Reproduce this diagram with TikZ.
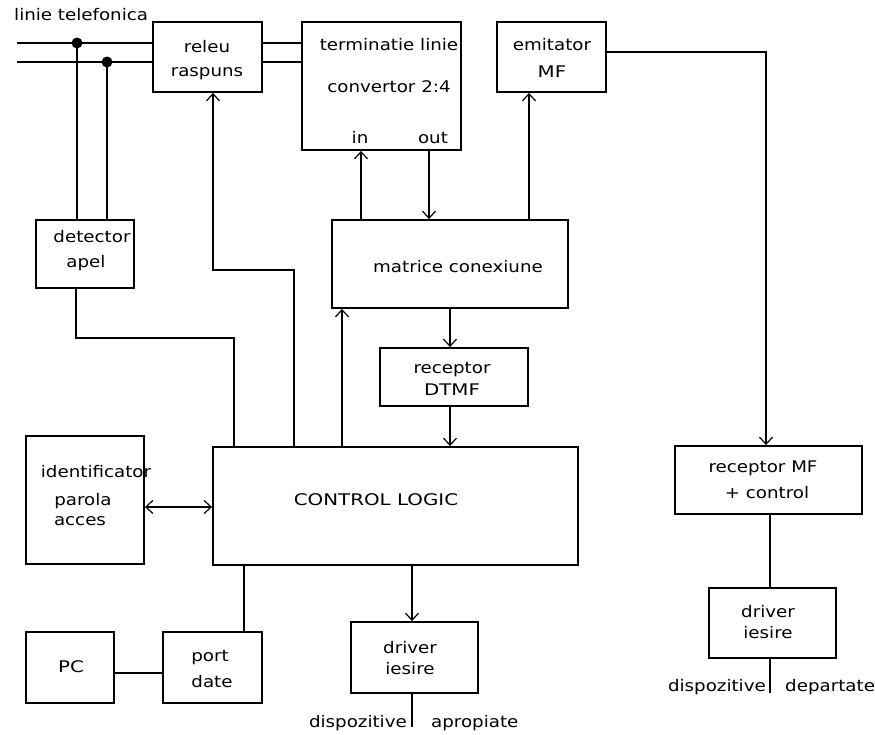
\documentclass[tikz,border=0pt]{standalone}
\usepackage{fontspec}
\usetikzlibrary{arrows.meta}
\newfontfamily\dfont[FakeStretch=1.14]{DejaVu Sans}
\newfontfamily\dfontw[FakeStretch=1.24]{DejaVu Sans}
\begin{document}
\begin{tikzpicture}[x=1pt,y=-1pt,
  box/.style={draw,line width=1.9pt,rectangle,inner sep=0pt},
  wire/.style={line width=1.9pt},
  arr/.style={wire,-{Straight Barb[length=7pt,width=13pt,line width=1.2pt]}},
  dbl/.style={wire,{Straight Barb[length=7pt,width=13pt,line width=1.2pt]}-{Straight Barb[length=7pt,width=13pt,line width=1.2pt]}},
  txt/.style={font=\dfont\fontsize{16}{18}\selectfont,inner sep=0pt,anchor=base},
  txtw/.style={font=\dfontw\fontsize{16}{18}\selectfont,inner sep=0pt,anchor=base},
  dot/.style={circle,fill,inner sep=0pt,minimum size=11pt}]
\useasboundingbox (0,0) rectangle (875,734);
% boxes
\node[box,minimum width=109pt,minimum height=70pt] (releu) at (207.5,57) {};
\node[box,minimum width=159pt,minimum height=128pt] (term) at (381.5,86) {};
\node[box,minimum width=109pt,minimum height=70pt] (emit) at (551.5,57) {};
\node[box,minimum width=98pt,minimum height=68pt] (detector) at (85,254) {};
\node[box,minimum width=236pt,minimum height=88pt] (matrice) at (450,264) {};
\node[box,minimum width=148pt,minimum height=58pt] (dtmf) at (454,377) {};
\node[box,minimum width=365pt,minimum height=118pt] (control) at (395.5,506) {};
\node[box,minimum width=118pt,minimum height=128pt] (ident) at (85,500) {};
\node[box,minimum width=88pt,minimum height=71pt] (pc) at (70,667.5) {};
\node[box,minimum width=99pt,minimum height=71pt] (port) at (212.5,667.5) {};
\node[box,minimum width=127pt,minimum height=71pt] (drv1) at (414.5,657.5) {};
\node[box,minimum width=187pt,minimum height=68pt] (rmf) at (768.5,480) {};
\node[box,minimum width=127pt,minimum height=70pt] (drv2) at (772.5,623) {};
% texts
\node[txt,anchor=base west] (tlinie) at (14,20) {linie telefonica};
\node[txt] (t1) at (207,52) {releu};
\node[txt] (t2) at (207,76) {raspuns};
\node[txt] (t3) at (389,50) {terminatie linie};
\node[txt] (t4) at (389,92) {convertor 2:4};
\node[txt] (t5) at (360,143) {in};
\node[txt] (t6) at (433,143) {out};
\node[txt] (t7) at (552,50) {emitator};
\node[txtw] (t8) at (552,77) {MF};
\node[txt] (t9) at (92,242) {detector};
\node[txt] (t10) at (86,267) {apel};
\node[txt] (t11) at (458,272) {matrice conexiune};
\node[txt] (t12) at (452,373) {receptor};
\node[txtw] (t13) at (452,395) {DTMF};
\node[txtw] (t14) at (376,505) {CONTROL LOGIC};
\node[txt] (t15) at (96,477) {identificator};
\node[txt] (t16) at (83,505) {parola};
\node[txt] (t17) at (80,525) {acces};
\node[txtw] (t18) at (71,672) {PC};
\node[txt] (t19) at (210,661) {port};
\node[txt] (t20) at (212,687) {date};
\node[txt] (t21) at (410,653) {driver};
\node[txt] (t22) at (410,674) {iesire};
\node[txt,anchor=base east] (t23) at (407,727) {dispozitive};
\node[txt,anchor=base west] (t24) at (431,727) {apropiate};
\node[txt] (t25) at (763,472) {receptor MF};
\node[txt] (t26) at (767,498) {+ control};
\node[txt] (t27) at (768,617) {driver};
\node[txt] (t28) at (768,638) {iesire};
\node[txt,anchor=base east] (t29) at (766,691) {dispozitive};
\node[txt,anchor=base west] (t30) at (785,691) {departate};
% telephone line
\coordinate (L1) at (17,43);
\coordinate (L2) at (17,62);
\node[dot] (d1) at (77,43) {};
\node[dot] (d2) at (107,62) {};
\draw[wire] (L1) -- (L1 -| releu.west);
\draw[wire] (L2) -- (L2 -| releu.west);
\draw[wire] (d1.center) -- (d1 |- detector.north);
\draw[wire] (d2.center) -- (d2 |- detector.north);
\draw[wire] (releu.east |- L1) -- (term.west |- L1);
\draw[wire] (releu.east |- L2) -- (term.west |- L2);
% terminatie <-> matrice
\draw[arr] (matrice.north -| 361,0) -- (term.south -| 361,0);
\draw[arr] (term.south -| 429,0) -- (matrice.north -| 429,0);
\draw[arr] (matrice.north -| 529,0) -- (emit.south -| 529,0);
% emitator -> receptor MF
\coordinate (eo) at (606,52);
\draw[arr] (eo) -| (rmf.north -| 766,0);
% matrice -> dtmf -> control
\draw[arr] (matrice.south -| 450,0) -- (dtmf.north -| 450,0);
\draw[arr] (dtmf.south -| 450,0) -- (control.north -| 450,0);
\draw[arr] (control.north -| 342,0) -- (matrice.south -| 342,0);
% control -> releu
\coordinate (r1) at (213,270);
\draw[arr] (control.north -| 294,0) |- (r1) -- (releu.south -| r1);
% detector -> control
\coordinate (c1) at (234,338);
\draw[wire] (detector.south -| 76,0) |- (c1) -- (control.north -| c1);
% identificator <-> control
\draw[dbl] (ident.east |- 0,507) -- (control.west |- 0,507);
% control - port - pc
\draw[wire] (control.south -| 244,0) -- (port.north -| 244,0);
\draw[wire] (pc.east |- 0,673) -- (port.west |- 0,673);
% control -> driver
\draw[arr] (control.south -| 412,0) -- (drv1.north -| 412,0);
\coordinate (o1) at (412,727);
\draw[wire] (drv1.south -| o1) -- (o1);
% receptor MF - driver
\draw[wire] (rmf.south -| 770,0) -- (drv2.north -| 770,0);
\coordinate (o2) at (770,693);
\draw[wire] (drv2.south -| o2) -- (o2);
\end{tikzpicture}
\end{document}
